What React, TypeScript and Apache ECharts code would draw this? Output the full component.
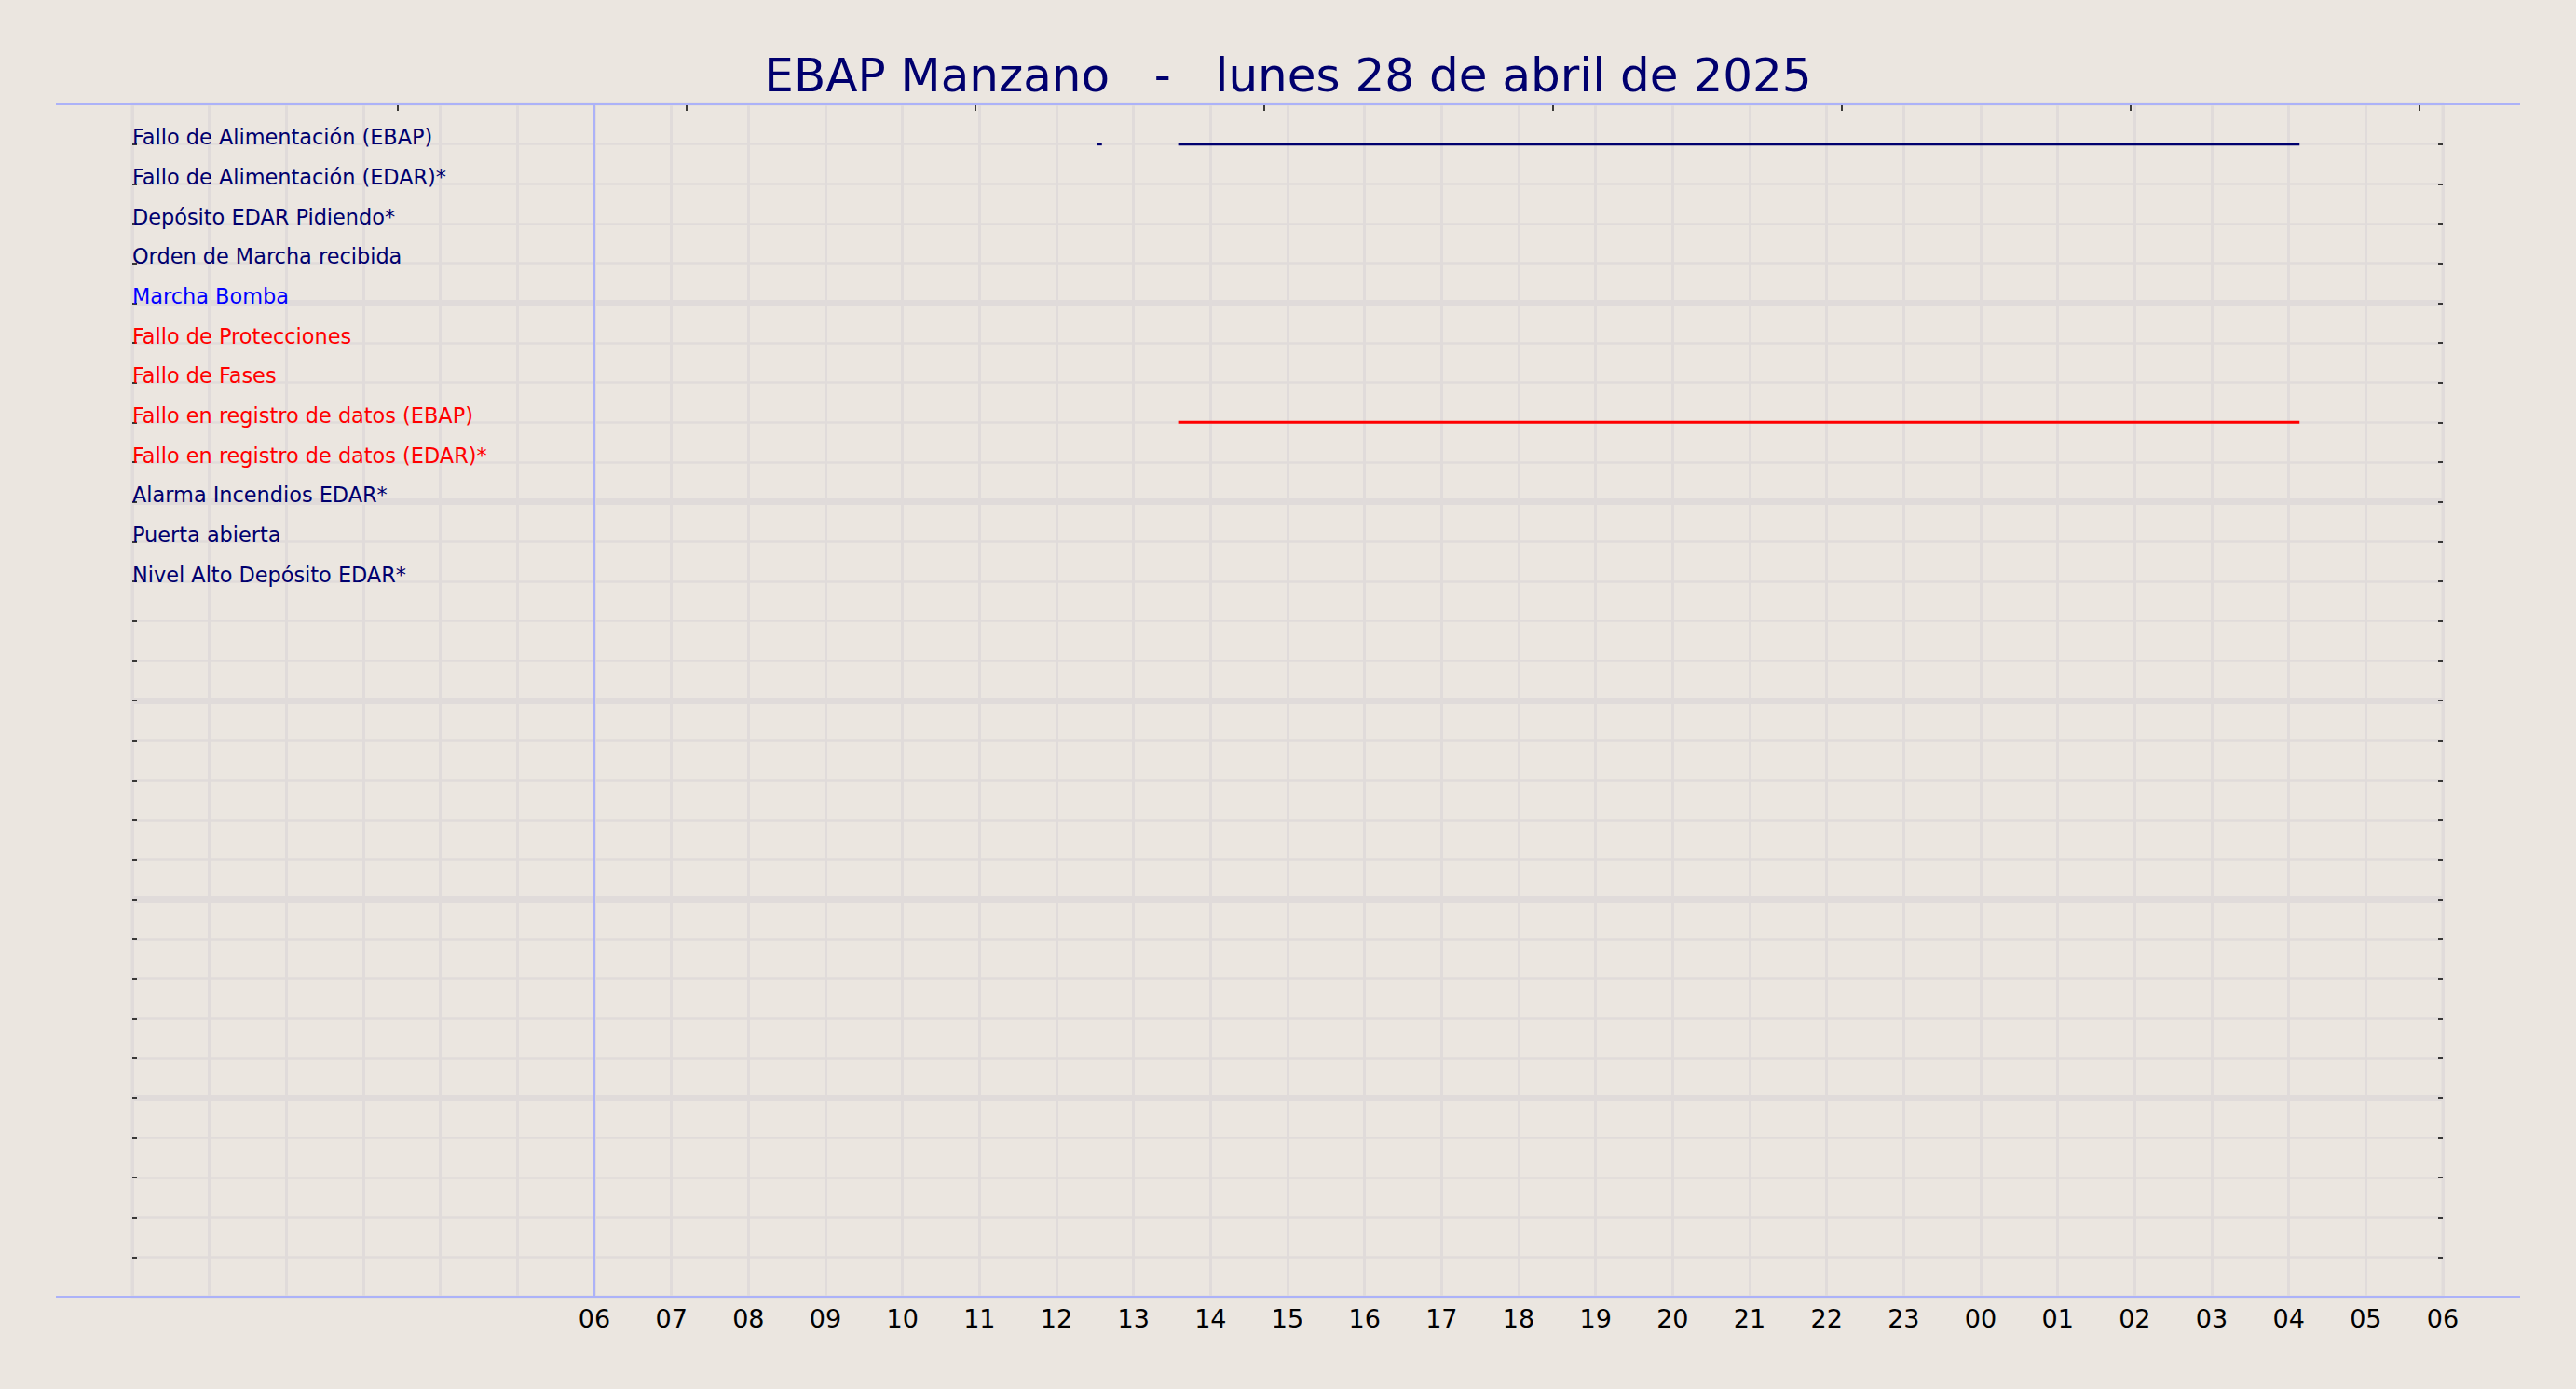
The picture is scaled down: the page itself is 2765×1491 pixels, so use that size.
import React, { useEffect, useRef } from 'react';
import * as echarts from 'echarts';

const TITLE = 'EBAP Manzano   -   lunes 28 de abril de 2025';

const rowLabels = [
  'Fallo de Alimentación (EBAP)',
  'Fallo de Alimentación (EDAR)*',
  'Depósito EDAR Pidiendo*',
  'Orden de Marcha recibida',
  'Marcha Bomba',
  'Fallo de Protecciones',
  'Fallo de Fases',
  'Fallo en registro de datos (EBAP)',
  'Fallo en registro de datos (EDAR)*',
  'Alarma Incendios EDAR*',
  'Puerta abierta',
  'Nivel Alto Depósito EDAR*',
];

const NAVY = '#00006e';
const BLUE = '#0000ff';
const RED = '#ff0000';
const rowColors = [NAVY, NAVY, NAVY, NAVY, BLUE, RED, RED, RED, RED, NAVY, NAVY, NAVY];

// row slots on the y axis (0 = top edge, 30 = bottom edge)
const labelRows = [1, 2, 3, 4, 5, 6, 7, 8, 9, 10, 11, 12];
const tickRows = [1, 2, 3, 4, 5, 6, 7, 8, 9, 10, 11, 12, 13, 14, 15, 16, 17, 18, 19, 20, 21, 22, 23, 24, 25, 26, 27, 28, 29];
const majorRows = [5, 10, 15, 20, 25];

// hours since 00:00 of the day (values > 24 are the next day)
const topTickHours = [3.45, 7.2, 10.95, 14.7, 18.45, 22.2, 25.95, 29.7];
const firstLabelHour = 6;
const dayStartHour = 6;

// active segments: row, start hour, end hour
const segRow = [1, 1, 8];
const segStart = [12.53, 13.58, 13.58];
const segEnd = [12.59, 28.14, 28.14];

const BG = '#ebe6e0';
const GRID = '#e0dbda';
const LAV = '#acb2f8';
const FONT = 'DejaVu Sans';

export default function App() {
  const ref = useRef<HTMLDivElement>(null);

  useEffect(() => {
    document.body.style.margin = '0';
    document.body.style.background = BG;
    const chart = echarts.init(ref.current!, undefined, { renderer: 'svg' });
    const option: any = {
      animation: false,
      backgroundColor: BG,
      title: {
        text: TITLE,
        left: 'center',
        top: 51,
        textStyle: { fontFamily: FONT, fontSize: 50, fontWeight: 'normal', color: NAVY },
      },
      grid: {
        left: 142,
        top: 112,
        width: 2480,
        height: 1280,
        show: true,
        borderColor: GRID,
        borderWidth: 3,
        backgroundColor: 'transparent',
      },
      xAxis: [
        {
          type: 'value',
          position: 'bottom',
          min: 0,
          max: 30,
          interval: 1,
          axisLine: { show: false },
          axisTick: { show: false },
          axisLabel: {
            show: true,
            margin: 10,
            fontFamily: FONT,
            fontSize: 27,
            lineHeight: 27,
            color: '#000',
            formatter: (v: number) => (v >= firstLabelHour ? String(v % 24).padStart(2, '0') : ''),
          },
          splitLine: { show: true, lineStyle: { color: GRID, width: 3 } },
        },
        {
          type: 'value',
          position: 'top',
          min: 0,
          max: 30,
          axisLine: { show: false },
          axisLabel: { show: false },
          splitLine: { show: false },
          axisTick: {
            show: true,
            inside: true,
            length: 7,
            customValues: topTickHours,
            lineStyle: { color: '#000', width: 1.5 },
          },
        },
      ],
      yAxis: [
        {
          type: 'value',
          position: 'left',
          min: 0,
          max: 30,
          interval: 1,
          inverse: true,
          axisLine: { show: false },
          axisTick: {
            show: true,
            inside: true,
            length: 5,
            customValues: tickRows,
            lineStyle: { color: '#000', width: 1.5 },
          },
          axisLabel: {
            show: true,
            inside: true,
            margin: 0,
            customValues: labelRows,
            align: 'left',
            verticalAlign: 'bottom',
            lineHeight: 15,
            fontFamily: FONT,
            fontSize: 22.4,
            formatter: (v: number) => rowLabels[Number(v) - 1] ?? '',
            color: (v: any) => rowColors[Number(v) - 1] ?? NAVY,
          },
          splitLine: { show: true, lineStyle: { color: GRID, width: 2.7 } },
        },
        {
          type: 'value',
          position: 'right',
          min: 0,
          max: 30,
          interval: 5,
          inverse: true,
          axisLine: { show: false },
          axisTick: { show: false, customValues: majorRows },
          axisLabel: { show: false },
          splitLine: { show: true, lineStyle: { color: GRID, width: 7 } },
        },
        {
          type: 'value',
          position: 'right',
          min: 0,
          max: 30,
          interval: 1,
          inverse: true,
          axisLine: { show: false },
          axisTick: {
            show: true,
            inside: true,
            length: 5,
            customValues: tickRows,
            lineStyle: { color: '#000', width: 1.5 },
          },
          axisLabel: { show: false },
          splitLine: { show: false },
        },
      ],
      graphic: [
        {
          type: 'line',
          silent: true,
          z: 10,
          shape: { x1: 60, y1: 112, x2: 2705, y2: 112 },
          style: { stroke: LAV, lineWidth: 2 },
        },
        {
          type: 'line',
          silent: true,
          z: 10,
          shape: { x1: 60, y1: 1392, x2: 2705, y2: 1392 },
          style: { stroke: LAV, lineWidth: 2 },
        },
      ],
      series: [
        {
          type: 'custom',
          xAxisIndex: 0,
          yAxisIndex: 0,
          z: 5,
          clip: false,
          encode: { x: [0, 1], y: 2 },
          data: segStart.map((s, i) => [s, segEnd[i], segRow[i]]),
          renderItem: (params: any, api: any) => {
            const row = api.value(2);
            const a = api.coord([api.value(0), row]);
            const b = api.coord([api.value(1), row]);
            return {
              type: 'line',
              shape: { x1: a[0], y1: a[1], x2: b[0], y2: b[1] },
              style: { stroke: rowColors[row - 1], lineWidth: 3, lineCap: 'butt' },
            };
          },
          markLine: {
            silent: true,
            symbol: ['none', 'none'],
            label: { show: false },
            lineStyle: { color: LAV, width: 2, type: 'solid' },
            data: [{ xAxis: dayStartHour }],
          },
        },
      ],
    };
    chart.setOption(option);
    return () => chart.dispose();
  }, []);

  return (
    <div
      ref={ref}
      style={{ position: 'fixed', left: 0, top: 0, width: 2765, height: 1491 }}
    />
  );
}
